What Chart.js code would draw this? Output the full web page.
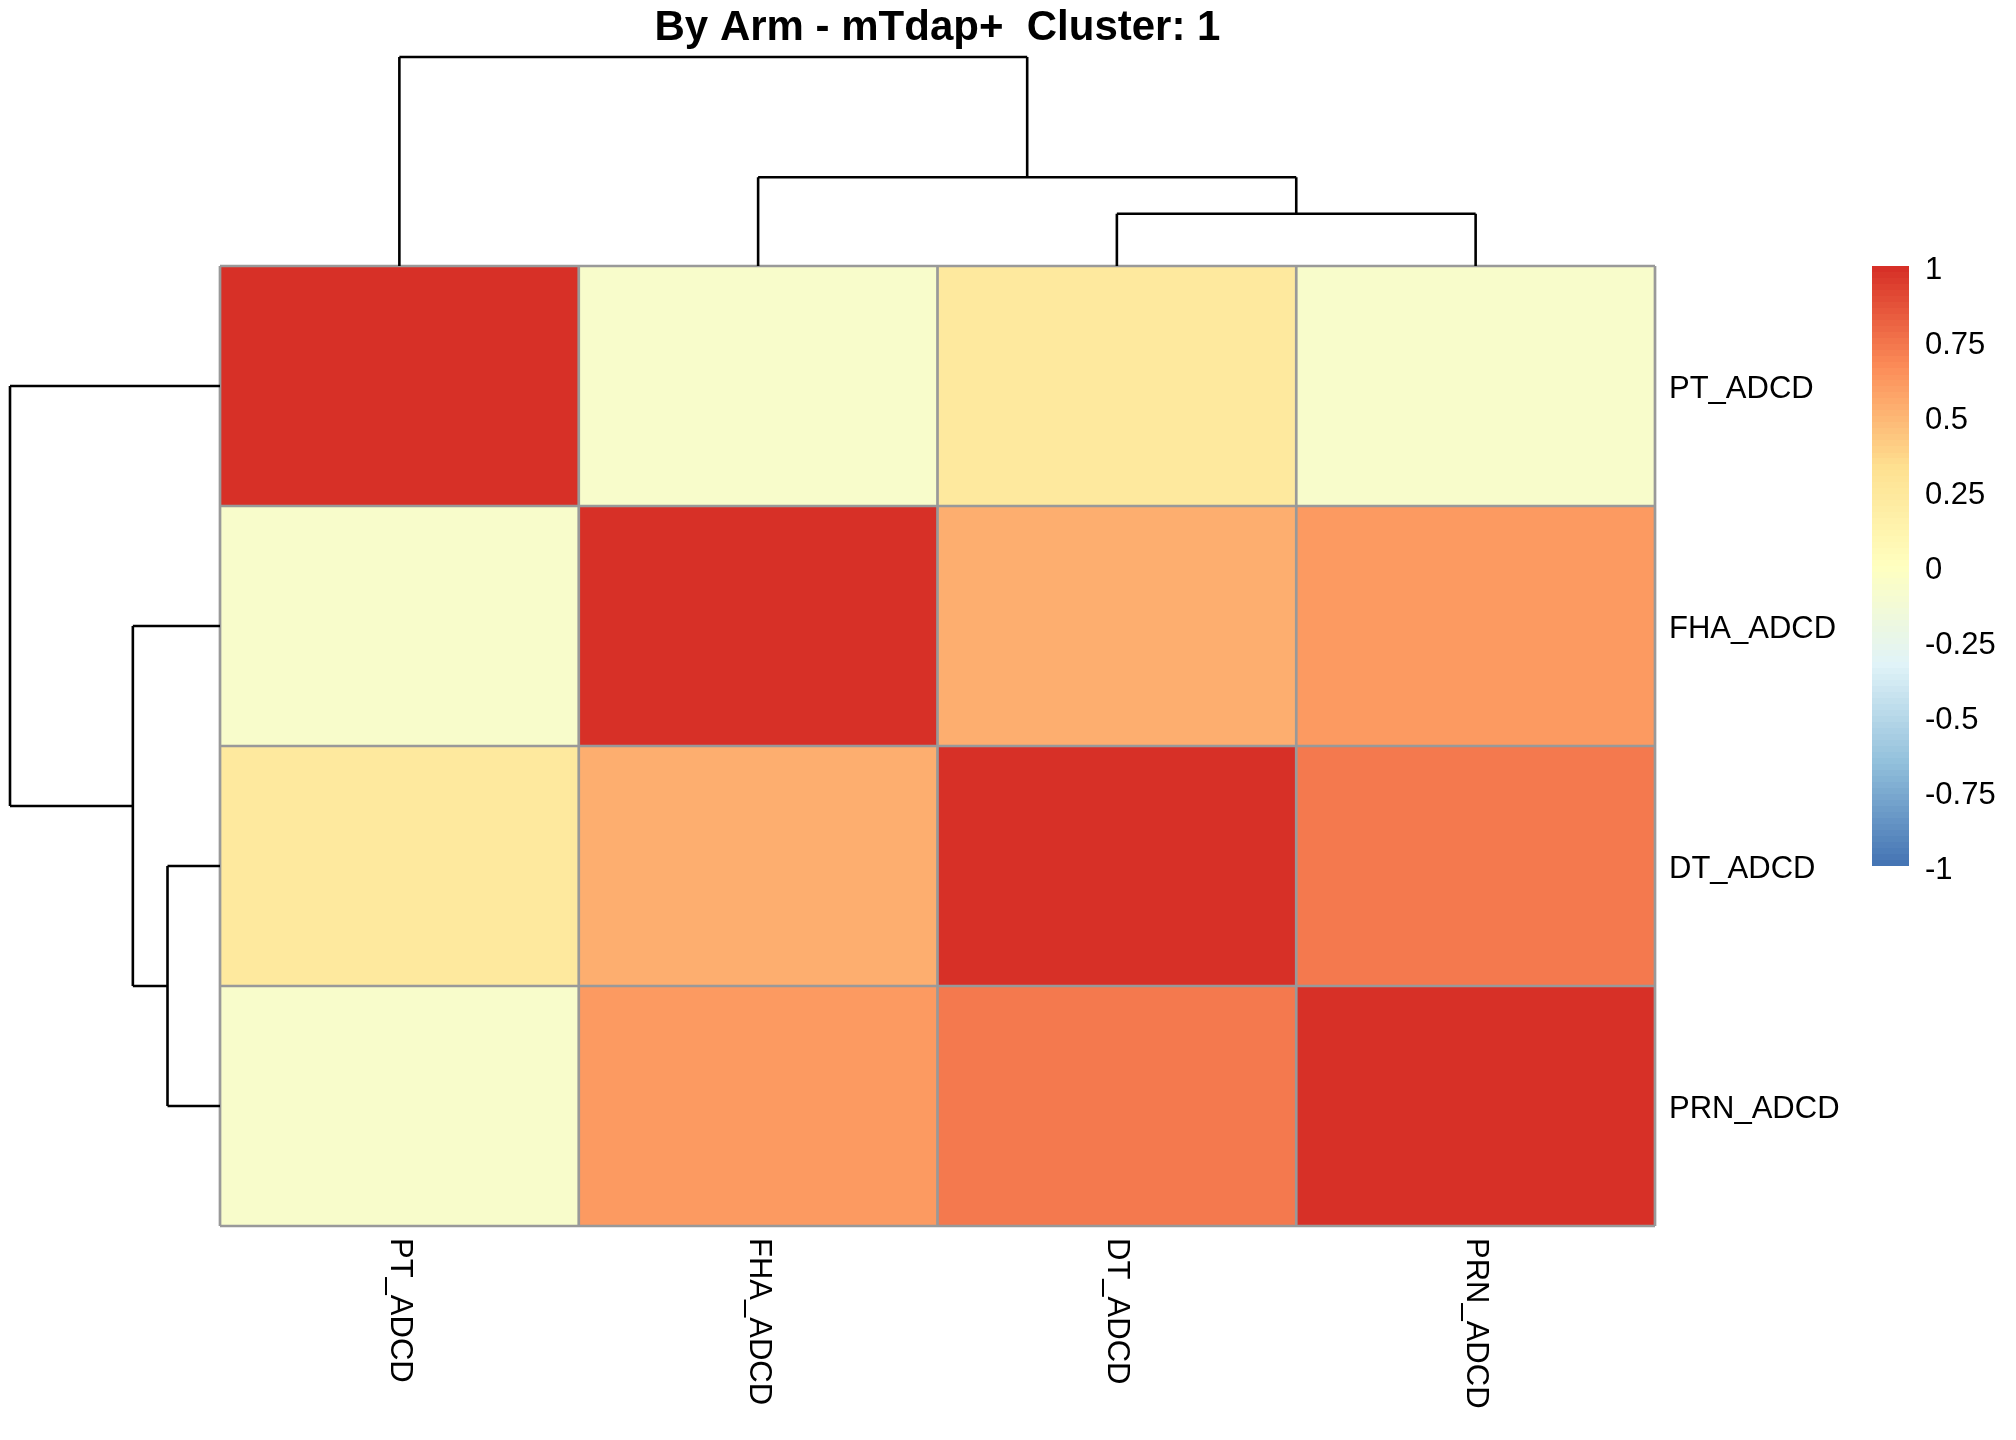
<!DOCTYPE html>
<html><head><meta charset="utf-8">
<script src="https://cdn.jsdelivr.net/npm/chart.js@4.4.1/dist/chart.umd.min.js"></script>
<style>html,body{margin:0;padding:0;background:#fff}#wrap{width:2016px;height:1440px}</style>
</head><body><div id="wrap"><canvas id="c" width="2016" height="1440"></canvas></div>
<script>
// ---------------- data ----------------
const titleText = 'By Arm - mTdap+  Cluster: 1';
const rowLabels = ['PT_ADCD', 'FHA_ADCD', 'DT_ADCD', 'PRN_ADCD'];
const colLabels = ['PT_ADCD', 'FHA_ADCD', 'DT_ADCD', 'PRN_ADCD'];
const rowPT  = [1.00, -0.08, 0.23, -0.07];
const rowFHA = [-0.08, 1.00, 0.52, 0.61];
const rowDT  = [0.23, 0.52, 1.00, 0.73];
const rowPRN = [-0.07, 0.61, 0.73, 1.00];
const matrixRows = [rowPT, rowFHA, rowDT, rowPRN];
const legendTicks = [1, 0.75, 0.5, 0.25, 0, -0.25, -0.5, -0.75, -1];
const legendTickLabels = ['1', '0.75', '0.5', '0.25', '0', '-0.25', '-0.5', '-0.75', '-1'];
const legendMin = -1, legendMax = 1;
// hclust-style merges (negative = leaf number), relative heights
const colMerge = [[-3, -4], [-2, 1], [-1, 2]];
const colHeight = [0.25, 0.425, 1.0];
const rowMerge = [[-3, -4], [-2, 1], [-1, 2]];
const rowHeight = [0.25, 0.415, 1.0];

// ---------------- styles ----------------
const FONT = "'Liberation Sans', Arial, sans-serif";
const anchors = ['#4575B4', '#91BFDB', '#E0F3F8', '#FFFFBF', '#FEE090', '#FC8D59', '#D73027'];
function hex2rgb(h) { return [1, 3, 5].map(i => parseInt(h.substr(i, 2), 16)); }
function ramp(n) {
  const a = anchors.map(hex2rgb), out = [];
  for (let i = 0; i < n; i++) {
    const p = i / (n - 1) * (a.length - 1);
    const k = Math.min(Math.floor(p), a.length - 2), t = p - k;
    const c = [0, 1, 2].map(j => Math.round(a[k][j] + (a[k + 1][j] - a[k][j]) * t));
    out.push('rgb(' + c.join(',') + ')');
  }
  return out;
}
const palette = ramp(100);
function colorFor(v) {
  const idx = Math.max(0, Math.min(99, Math.floor((v - legendMin) / (legendMax - legendMin) * 100)));
  return palette[idx];
}

const datasets = matrixRows.map((row, i) => ({
  label: rowLabels[i],
  data: colLabels.map(() => [i, i + 1]),
  backgroundColor: row.map(colorFor),
  borderWidth: 0,
  grouped: false,
  barPercentage: 1,
  categoryPercentage: 1,
  xAxisID: 'x',
  yAxisID: 'y'
}));

function buildNodes(merge, height, leafPos) {
  const nodes = [];
  const get = (r) => r < 0 ? { p: leafPos[-r - 1], h: 0 } : nodes[r - 1];
  const segs = [];
  merge.forEach((m, k) => {
    const a = get(m[0]), b = get(m[1]), h = height[k];
    segs.push([a.p, a.h, a.p, h], [b.p, b.h, b.p, h], [a.p, h, b.p, h]);
    nodes.push({ p: (a.p + b.p) / 2, h: h });
  });
  return segs;
}

const heatPlugin = {
  id: 'heatExtras',
  afterDatasetsDraw(chart) {
    const ctx = chart.ctx, xs = chart.scales.x, ys = chart.scales.y, ca = chart.chartArea;
    const n = colLabels.length, m = rowLabels.length;
    const colW = (ca.right - ca.left) / n;
    ctx.save();
    // cell borders
    ctx.strokeStyle = '#999999'; ctx.lineWidth = 2.7;
    ctx.beginPath();
    for (let j = 0; j <= n; j++) {
      const x = j < n ? xs.getPixelForValue(j) - colW / 2 : xs.getPixelForValue(n - 1) + colW / 2;
      ctx.moveTo(x, ys.getPixelForValue(0)); ctx.lineTo(x, ys.getPixelForValue(m));
    }
    for (let i = 0; i <= m; i++) {
      const y = ys.getPixelForValue(i);
      ctx.moveTo(ca.left, y); ctx.lineTo(ca.right, y);
    }
    ctx.stroke();
    // column dendrogram
    const treeTop = 209, treeLeft = 210;
    ctx.strokeStyle = '#000'; ctx.lineWidth = 2.6; ctx.lineCap = 'butt';
    const maxC = Math.max(...colHeight);
    const cSegs = buildNodes(colMerge, colHeight, colLabels.map((_, j) => xs.getPixelForValue(j)));
    ctx.beginPath();
    cSegs.forEach(s => {
      ctx.moveTo(s[0], ca.top - s[1] / maxC * treeTop);
      ctx.lineTo(s[2], ca.top - s[3] / maxC * treeTop);
    });
    ctx.stroke();
    // row dendrogram
    const maxR = Math.max(...rowHeight);
    const rSegs = buildNodes(rowMerge, rowHeight, rowLabels.map((_, i) => ys.getPixelForValue(i + 0.5)));
    ctx.beginPath();
    rSegs.forEach(s => {
      ctx.moveTo(ca.left - s[1] / maxR * treeLeft, s[0]);
      ctx.lineTo(ca.left - s[3] / maxR * treeLeft, s[2]);
    });
    ctx.stroke();
    // column labels (rotated clockwise)
    ctx.fillStyle = '#000'; ctx.font = '31px ' + FONT;
    ctx.textAlign = 'left'; ctx.textBaseline = 'middle';
    colLabels.forEach((lab, j) => {
      ctx.save();
      ctx.translate(xs.getPixelForValue(j), ca.bottom + 12);
      ctx.rotate(Math.PI / 2);
      ctx.fillText(lab, 0, 0);
      ctx.restore();
    });
    // colour legend
    const lx = 1872, lw = 37, ly0 = ca.top, lh = 600;
    const N = palette.length;
    for (let k = 0; k < N; k++) {
      ctx.fillStyle = palette[k];
      const yb = ly0 + lh - k / N * lh, yt = ly0 + lh - (k + 1) / N * lh;
      ctx.fillRect(lx, Math.floor(yt), lw, Math.ceil(yb) - Math.floor(yt));
    }
    ctx.fillStyle = '#000'; ctx.textBaseline = 'alphabetic'; ctx.textAlign = 'left';
    legendTicks.forEach((v, k) => {
      const y = ly0 + lh - (v - legendMin) / (legendMax - legendMin) * lh;
      ctx.fillText(legendTickLabels[k], 1925, y + 13);
    });
    ctx.restore();
  }
};

new Chart(document.getElementById('c'), {
  type: 'bar',
  data: { labels: colLabels, datasets: datasets },
  options: {
    responsive: false,
    devicePixelRatio: 1,
    animation: false,
    layout: { padding: { left: 220, right: 0, top: 0, bottom: 214 } },
    plugins: {
      legend: { display: false },
      tooltip: { enabled: false },
      title: {
        display: true, text: titleText, fullSize: false, color: '#000',
        font: { family: FONT, size: 42, weight: 'bold', lineHeight: 1.2 },
        padding: { top: 3, bottom: 212.6 }
      }
    },
    scales: {
      x: { type: 'category', labels: colLabels, offset: true, display: false },
      y: { type: 'linear', min: 0, max: 4, reverse: true, display: false },
      yr: {
        type: 'category', axis: 'y', position: 'right', labels: rowLabels, offset: true,
        grid: { display: false, drawTicks: false }, border: { display: false },
        ticks: { color: '#000', font: { family: FONT, size: 31 }, padding: 14, labelOffset: 3 },
        afterFit(s) { s.width = 361; }
      }
    }
  },
  plugins: [heatPlugin]
});
</script>
</body></html>
